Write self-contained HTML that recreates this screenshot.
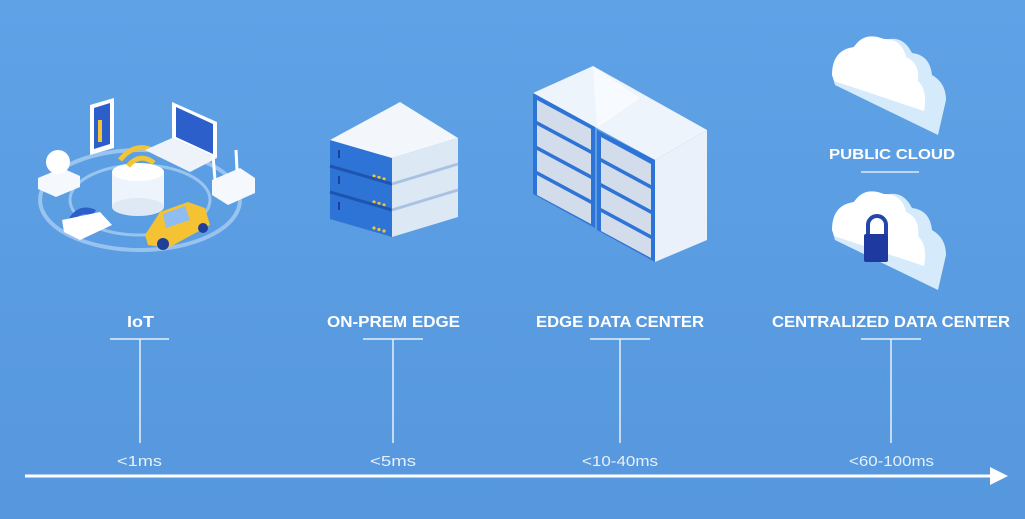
<!DOCTYPE html>
<html><head><meta charset="utf-8"><style>
html,body{margin:0;padding:0;}
body{width:1025px;height:519px;overflow:hidden;background:#5b9de2;}
svg{display:block}
text{font-family:"Liberation Sans",sans-serif;fill:#fff}
</style></head><body>
<svg width="1025" height="519" viewBox="0 0 1025 519">
<defs>
<linearGradient id="bg" x1="0" y1="0" x2="0" y2="1"><stop offset="0" stop-color="#5fa2e6"/><stop offset="1" stop-color="#5697dd"/></linearGradient>
</defs>
<rect width="1025" height="519" fill="url(#bg)"/>
<!-- IoT -->
<g>
<ellipse cx="140" cy="200" rx="100" ry="50" fill="none" stroke="#a9cdf2" stroke-width="4" opacity=".8"/>
<ellipse cx="140" cy="200" rx="70" ry="35" fill="none" stroke="#a9cdf2" stroke-width="3" opacity=".8"/>
<rect x="112" y="172" width="52" height="35" fill="#eef4fb"/>
<ellipse cx="138" cy="207" rx="26" ry="9" fill="#dfe9f5"/>
<ellipse cx="138" cy="172" rx="26" ry="9" fill="#fff"/>
<path d="M120 160 q18-22 40-5" stroke="#f2c43a" stroke-width="5" fill="none"/>
<path d="M128 166 q12-14 26-3" stroke="#f2c43a" stroke-width="5" fill="none"/>
<polygon points="90,105 114,98 114,148 90,155" fill="#fff"/>
<polygon points="94,108 110,103 110,144 94,149" fill="#2c5fc9"/>
<rect x="98" y="120" width="4" height="22" fill="#f2c43a"/>
<polygon points="172,102 217,122 217,158 172,138" fill="#fff"/>
<polygon points="176,107 213,124 213,154 176,137" fill="#2c5fc9"/>
<polygon points="145,150 172,138 217,158 190,172" fill="#eef3fa"/>
<polygon points="212,180 240,168 255,178 255,193 228,205 212,195" fill="#f5f8fc"/>
<line x1="215" y1="180" x2="213" y2="155" stroke="#fff" stroke-width="3"/>
<line x1="237" y1="170" x2="236" y2="150" stroke="#fff" stroke-width="3"/>
<polygon points="38,178 62,168 80,176 80,187 56,197 38,189" fill="#f5f8fc"/>
<circle cx="58" cy="162" r="12" fill="#fff"/>
<path d="M68 220 q10-18 28-10 l-4 6 q-12-6-20 8z" fill="#2c5fc9"/>
<polygon points="62,220 100,212 112,225 80,240 64,232" fill="#fff"/>
<polygon points="145,235 160,212 188,202 205,208 210,225 168,248 148,245" fill="#f4c233"/>
<polygon points="163,214 185,206 190,220 166,228" fill="#8fbdf0"/>
<circle cx="163" cy="244" r="6" fill="#1f3f99"/><circle cx="203" cy="228" r="5" fill="#1f3f99"/>
</g>
<!-- On-prem servers -->
<g>
<g transform="translate(0,52)">
<polygon points="330,140 392,158 392,185 330,167" fill="#2e74d6"/>
<polygon points="392,158 458,138 458,165 392,185" fill="#dde8f5"/>
<circle cx="374" cy="176" r="1.6" fill="#f2c43a"/><circle cx="379" cy="177.5" r="1.6" fill="#f2c43a"/><circle cx="384" cy="179" r="1.6" fill="#f2c43a"/>
<rect x="338" y="150" width="2" height="8" fill="#1e3fa0"/>
</g>
<g transform="translate(0,26)">
<polygon points="330,140 392,158 392,185 330,167" fill="#2e74d6"/>
<polygon points="392,158 458,138 458,165 392,185" fill="#dde8f5"/>
<circle cx="374" cy="176" r="1.6" fill="#f2c43a"/><circle cx="379" cy="177.5" r="1.6" fill="#f2c43a"/><circle cx="384" cy="179" r="1.6" fill="#f2c43a"/>
<rect x="338" y="150" width="2" height="8" fill="#1e3fa0"/>
</g>
<polygon points="330,140 392,158 392,185 330,167" fill="#2e74d6"/>
<polygon points="392,158 458,138 458,165 392,185" fill="#dde8f5"/>
<polygon points="330,140 400,102 458,138 392,158" fill="#f3f7fc"/>
<circle cx="374" cy="176" r="1.6" fill="#f2c43a"/><circle cx="379" cy="177.5" r="1.6" fill="#f2c43a"/><circle cx="384" cy="179" r="1.6" fill="#f2c43a"/>
<rect x="338" y="150" width="2" height="8" fill="#1e3fa0"/>
<g stroke-width="3" fill="none">
<polyline points="330,166 392,184" stroke="#1d55b0"/>
<polyline points="392,184 458,164" stroke="#a9c2e2"/>
<polyline points="330,192 392,210" stroke="#1d55b0"/>
<polyline points="392,210 458,190" stroke="#a9c2e2"/>
</g>
</g>
<!-- Edge data center racks -->
<g>
<polygon points="533,93 593,66 707,130 655,160" fill="#eef4fb"/>
<polygon points="593,66 640,98 597,128" fill="#f7fafe"/>
<polygon points="533,93 595,127 595,228 533,194" fill="#2e74d6"/>
<polygon points="597,130 655,160 655,262 597,230" fill="#2e74d6"/>
<polygon points="655,160 707,130 707,240 655,262" fill="#eaf1fa"/>
<g fill="#d3dceb">
<polygon points="537,100 591,129 591,150 537,121"/>
<polygon points="537,125 591,154 591,175 537,146"/>
<polygon points="537,150 591,179 591,200 537,171"/>
<polygon points="537,175 591,204 591,224 537,195"/>
<polygon points="601,137 651,164 651,185 601,158"/>
<polygon points="601,162 651,189 651,210 601,183"/>
<polygon points="601,187 651,214 651,235 601,208"/>
<polygon points="601,212 651,239 651,258 601,231"/>
</g>
</g>
<!-- clouds -->
<g>
<path d="M835 85 q-8-25 15-32 q8-18 32-12 q20-8 30 12 q18 2 20 22 q14 8 14 25 l-8 35 z" fill="#d5ebfb"/>
<path d="M832 75 q0-25 22-28 q10-16 30-8 q18 0 22 18 q14 6 12 24 q10 10 6 30 l-90 -30 z" fill="#fff"/>
<path d="M835 240 q-8-25 15-32 q8-18 32-12 q20-8 30 12 q18 2 20 22 q14 8 14 25 l-8 35 z" fill="#d5ebfb"/>
<path d="M832 230 q0-25 22-28 q10-16 30-8 q18 0 22 18 q14 6 12 24 q10 10 6 30 l-90 -30 z" fill="#fff"/>
<path d="M868 235 v-10 a9 9 0 0 1 18 0 v10" stroke="#2346a8" stroke-width="4" fill="none"/>
<rect x="864" y="234" width="24" height="28" rx="2" fill="#1e3aa0"/>
</g>
<text x="829" y="159" font-size="15" font-weight="bold" textLength="126" lengthAdjust="spacingAndGlyphs">PUBLIC CLOUD</text>
<line x1="861" y1="172" x2="919" y2="172" stroke="#dbeafb" stroke-width="1.5"/>
<!-- labels -->
<g font-size="16" font-weight="bold">
<text x="127" y="327" textLength="27" lengthAdjust="spacingAndGlyphs">IoT</text>
<text x="327" y="327" textLength="133" lengthAdjust="spacingAndGlyphs">ON-PREM EDGE</text>
<text x="536" y="327" textLength="168" lengthAdjust="spacingAndGlyphs">EDGE DATA CENTER</text>
<text x="772" y="327" textLength="238" lengthAdjust="spacingAndGlyphs">CENTRALIZED DATA CENTER</text>
</g>
<g stroke="#e6f0fb" stroke-width="1.5">
<line x1="110" y1="339" x2="169" y2="339"/><line x1="140" y1="339" x2="140" y2="443"/>
<line x1="363" y1="339" x2="423" y2="339"/><line x1="393" y1="339" x2="393" y2="443"/>
<line x1="590" y1="339" x2="650" y2="339"/><line x1="620" y1="339" x2="620" y2="443"/>
<line x1="861" y1="339" x2="921" y2="339"/><line x1="891" y1="339" x2="891" y2="443"/>
</g>
<g font-size="15">
<text x="117" y="466" textLength="45" lengthAdjust="spacingAndGlyphs" style="fill:#e6f0fb">&lt;1ms</text>
<text x="370" y="466" textLength="46" lengthAdjust="spacingAndGlyphs" style="fill:#e6f0fb">&lt;5ms</text>
<text x="582" y="466" textLength="76" lengthAdjust="spacingAndGlyphs" style="fill:#e6f0fb">&lt;10-40ms</text>
<text x="849" y="466" textLength="85" lengthAdjust="spacingAndGlyphs" style="fill:#e6f0fb">&lt;60-100ms</text>
</g>
<line x1="25" y1="476" x2="995" y2="476" stroke="#fff" stroke-width="3"/>
<polygon points="990,467 1008,476 990,485" fill="#fff"/>
</svg>
</body></html>
